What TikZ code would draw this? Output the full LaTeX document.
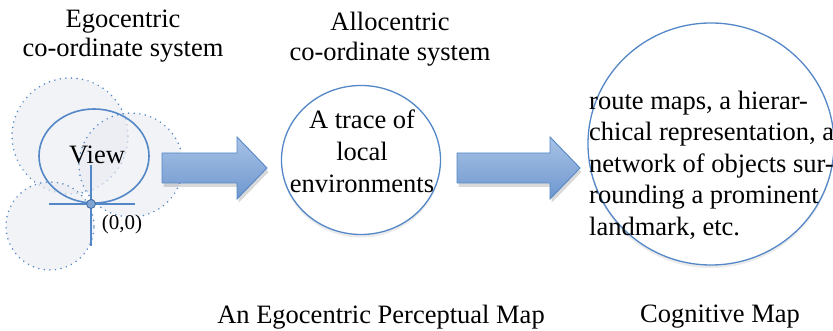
\documentclass[tikz,border=0pt]{standalone}
\usepackage{fontspec}
\setmainfont{Liberation Serif}
\usetikzlibrary{shapes.geometric,shadows}
\definecolor{lineblue}{RGB}{84,135,199}
\definecolor{softgray}{RGB}{234,236,242}
\definecolor{arrtop}{RGB}{168,194,229}
\definecolor{arrbot}{RGB}{110,151,207}
\begin{document}
\begin{tikzpicture}[x=1pt,y=1pt,
  dotcirc/.style={circle, inner sep=0pt, draw=lineblue, line width=1.7pt,
     dash pattern=on 0pt off 5.6pt, line cap=round, fill=softgray, fill opacity=0.65},
  viewell/.style={ellipse, inner sep=0pt, draw=lineblue, line width=1.6pt},
  bigell/.style={ellipse, inner sep=0pt, draw=lineblue, line width=1.3pt, fill=white,
     drop shadow={shadow xshift=0pt, shadow yshift=-3pt, opacity=0.08, fill=black}},
  axisline/.style={draw=lineblue, line width=2.2pt},
  blockarrow/.style={draw=lineblue, line width=0.9pt, top color=arrtop, bottom color=arrbot,
     drop shadow={shadow xshift=1.5pt, shadow yshift=-4pt, opacity=0.15, fill=black}},
  toplabel/.style={align=center, inner sep=0pt, font=\fontsize{26.5}{29.5}\selectfont},
  bodytext/.style={align=center, inner sep=0pt, font=\fontsize{26.5}{32}\selectfont},
  maptext/.style={align=left, inner sep=0pt, anchor=west, font=\fontsize{26.5}{31.5}\selectfont},
  caption/.style={inner sep=0pt, font=\fontsize{26.5}{32}\selectfont}
]
\useasboundingbox (0,0) rectangle (833,331);

% top labels
\node[toplabel] (ego) at (123,295) {Egocentric\\co-ordinate system};
\node[toplabel] (allo) at (390,292) {Allocentric\\co-ordinate system};

% egocentric perceptual map
\node[dotcirc, minimum size=116pt] (d1) at (70,195) {};
\node[dotcirc, minimum size=104pt] (d2) at (131,166) {};
\node[dotcirc, minimum size=88pt] (d3) at (50,105) {};
\node[viewell, minimum width=110pt, minimum height=94pt] (view) at (94,175) {};
\node[inner sep=0pt, font=\fontsize{26.5}{32}\selectfont] (viewtxt) at (97,176) {View};
\coordinate (o) at (91,127);
\coordinate (xl) at (49,127);
\coordinate (xr) at (135,127);
\coordinate (yt) at (91,166);
\coordinate (yb) at (91,85);
\draw[axisline] (xl) -- (xr);
\draw[axisline] (yt) -- (yb);
\filldraw[draw=lineblue!80!black, fill=lineblue!75, line width=0.8pt] (o) circle (4.5pt);
\node[inner sep=0pt, font=\fontsize{21}{24}\selectfont] (orig) at (122,107) {(0,0)};

% arrow 1
\coordinate (a1p) at (267,163);
\path[blockarrow] (162,178) -- (237,178) -- (237,194) -- (a1p) -- (237,132) -- (237,148) -- (162,148) -- cycle;

% allocentric trace
\node[bigell, minimum width=159pt, minimum height=149pt] (trace) at (361,171) {};
\node[bodytext] (tracetxt) at (362,180) {A trace of\\local\\environments};

% arrow 2
\coordinate (a2p) at (580,163);
\path[blockarrow] (457,178) -- (550,178) -- (550,194) -- (a2p) -- (550,132) -- (550,148) -- (457,148) -- cycle;

% cognitive map
\node[bigell, minimum width=246pt, minimum height=242pt] (cog) at (711,187) {};
\node[maptext] (cogtxt) at (589,166) {route maps, a hierar-\\chical representation, a\\network of objects sur-\\rounding a prominent\\landmark, etc.};

% captions
\node[caption] (cap1) at (381,14) {An Egocentric Perceptual Map};
\node[caption] (cap2) at (720,14) {Cognitive Map};
\end{tikzpicture}
\end{document}
